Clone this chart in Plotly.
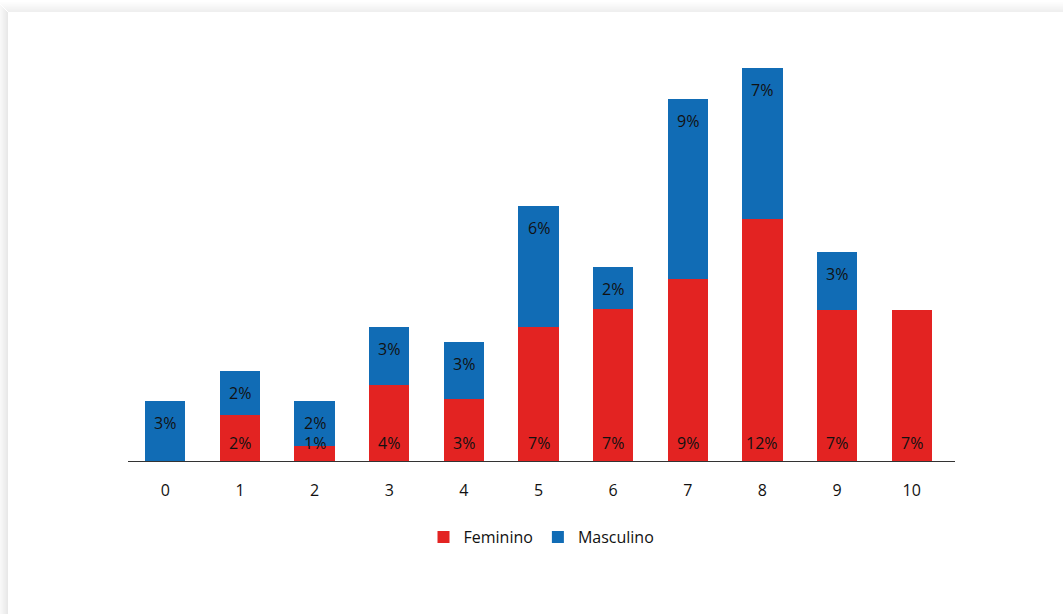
import plotly.graph_objects as go

# Categorias (0 a 10) e percentagens por sexo
categorias = ["0", "1", "2", "3", "4", "5", "6", "7", "8", "9", "10"]
feminino = [0, 2.25, 0.74, 3.73, 3.04, 6.57, 7.45, 8.92, 11.86, 7.40, 7.40]
masculino = [2.94, 2.16, 2.21, 2.84, 2.79, 5.93, 2.06, 8.82, 7.40, 2.84, 0]

RED = "#E32322"
BLUE = "#116CB5"
FONT = "Open Sans"
FS = 16

W, H = 1063, 614
ML, MR, MT, MB = 128, 108, 53, 153
PW, PH = W - ML - MR, H - MT - MB


def px_x(p):
    return (p - ML) / PW


def px_y(p):
    return (H - MB - p) / PH


fig = go.Figure()
fig.add_trace(go.Bar(x=categorias, y=feminino, name="Feminino",
                     marker=dict(color=RED, line=dict(width=0)), width=0.54))
fig.add_trace(go.Bar(x=categorias, y=masculino, name="Masculino",
                     marker=dict(color=BLUE, line=dict(width=0)), width=0.54))

annotations = []
for c, f, m in zip(categorias, feminino, masculino):
    if f > 0:
        annotations.append(dict(x=c, y=0, text=f"{round(f)}%", showarrow=False,
                                yshift=18, font=dict(family=FONT, size=FS, color="#111")))
    if m > 0:
        annotations.append(dict(x=c, y=f + m, text=f"{round(m)}%", showarrow=False,
                                yshift=-22, font=dict(family=FONT, size=FS, color="#111")))

# Sombra do cartão (topo e lado esquerdo)
shapes = []
for i in range(10):
    a = 0.09 * (10 - i) / 10
    shapes.append(dict(type="rect", xref="paper", yref="paper", layer="below",
                       x0=px_x(8 - i - 1), x1=px_x(8 - i), y0=px_y(H), y1=px_y(12 - i),
                       fillcolor=f"rgba(0,0,0,{a:.3f})", line=dict(width=0)))
    shapes.append(dict(type="rect", xref="paper", yref="paper", layer="below",
                       x0=px_x(8 - i), x1=px_x(W), y0=px_y(12 - i), y1=px_y(12 - i - 1),
                       fillcolor=f"rgba(0,0,0,{a * 0.7:.3f})", line=dict(width=0)))

fig.update_layout(
    width=W, height=H,
    margin=dict(l=ML, r=MR, t=MT, b=MB),
    barmode="stack",
    paper_bgcolor="white", plot_bgcolor="white",
    font=dict(family=FONT, size=FS, color="#111"),
    showlegend=True,
    legend=dict(orientation="h", x=0.5, xanchor="center", y=px_y(537), yanchor="middle",
                font=dict(family=FONT, size=FS, color="#111"), traceorder="normal",
                itemwidth=30),
    xaxis=dict(range=[-0.5, 10.58], showgrid=False, showline=True, linecolor="#333",
               linewidth=1, ticks="", tickfont=dict(family=FONT, size=FS, color="#111"),
               ticklabelstandoff=15),
    yaxis=dict(range=[0, 20], visible=False),
    annotations=annotations,
    shapes=shapes,
)

fig.write_html("out.html")
